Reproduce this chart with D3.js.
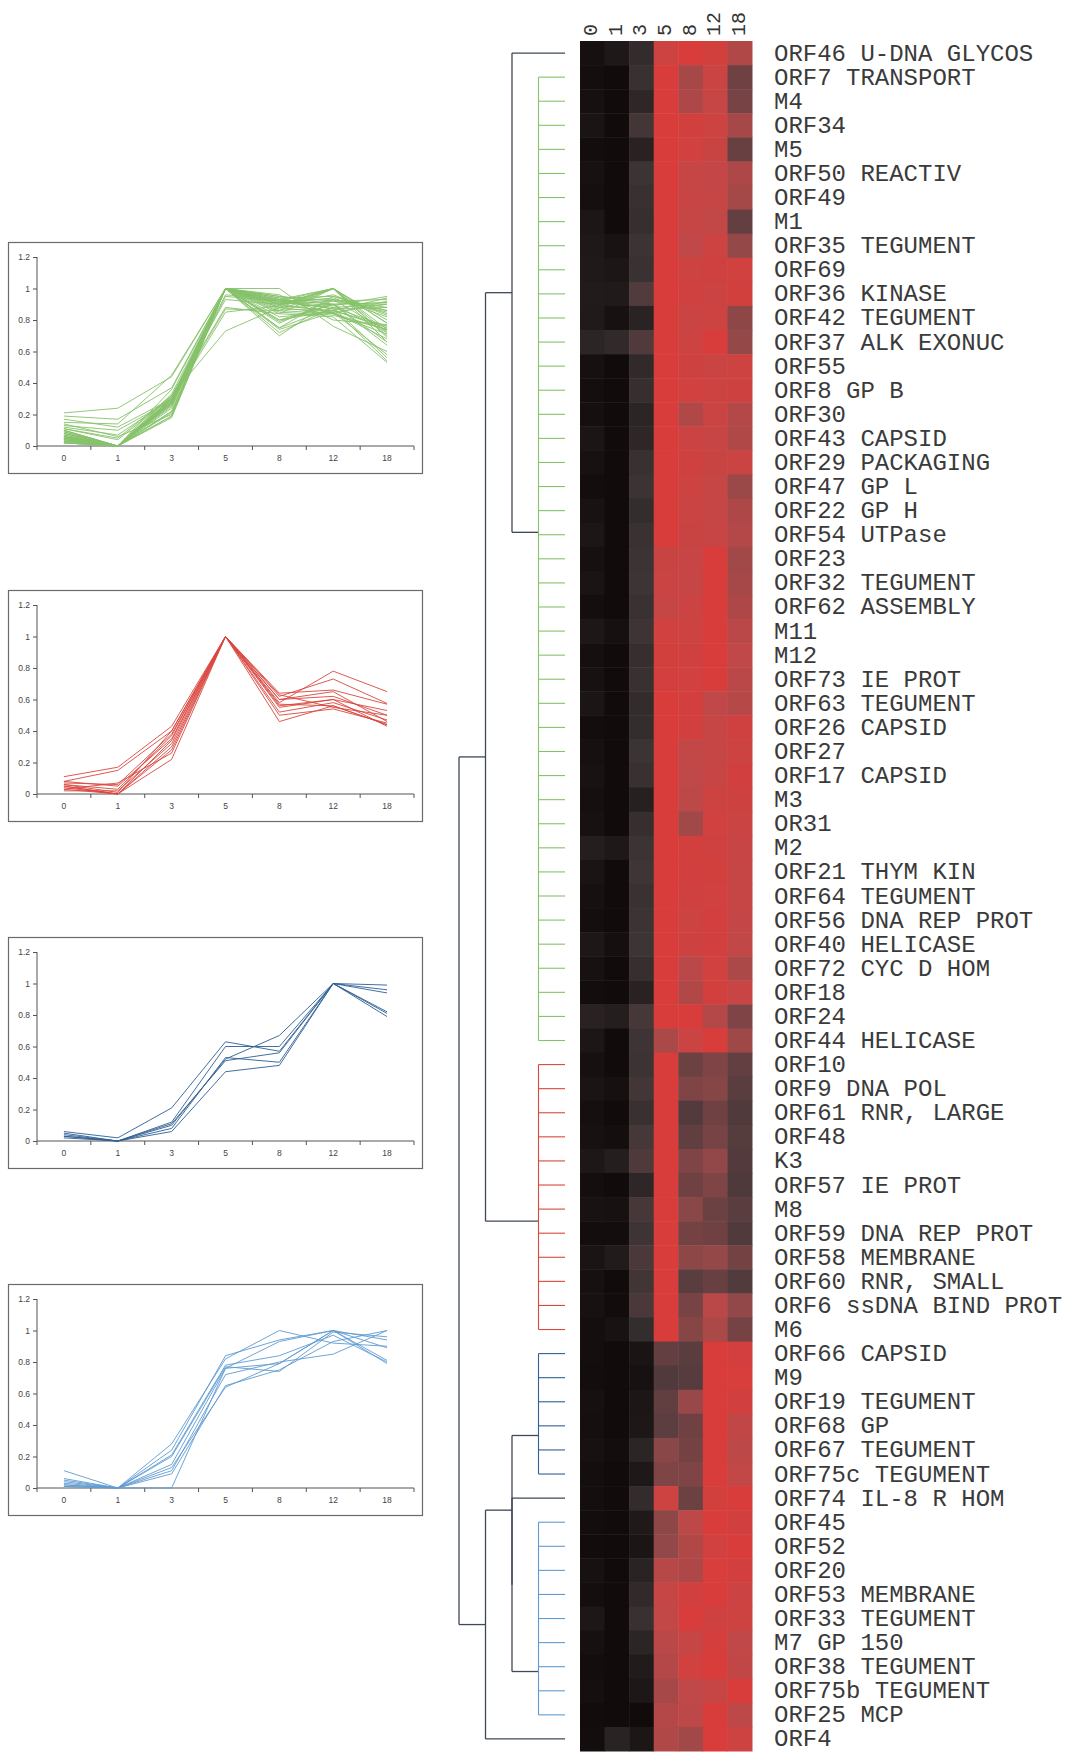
<!DOCTYPE html>
<html>
<head>
<meta charset="utf-8">
<script src="https://cdn.jsdelivr.net/npm/d3@7"></script>
<style>
  html, body { margin: 0; padding: 0; background: #fff; }
  svg { display: block; }
</style>
</head>
<body>
<svg id="fig" width="1071" height="1754"></svg>
<script>
// Time points (hours after induction)
const timepoints = ["0", "1", "3", "5", "8", "12", "18"];

// Gene labels, top to bottom in dendrogram order
const genes = [
  "ORF46 U-DNA GLYCOS", "ORF7 TRANSPORT", "M4", "ORF34", "M5", "ORF50 REACTIV",
  "ORF49", "M1", "ORF35 TEGUMENT", "ORF69", "ORF36 KINASE", "ORF42 TEGUMENT",
  "ORF37 ALK EXONUC", "ORF55", "ORF8 GP B", "ORF30", "ORF43 CAPSID",
  "ORF29 PACKAGING", "ORF47 GP L", "ORF22 GP H", "ORF54 UTPase", "ORF23",
  "ORF32 TEGUMENT", "ORF62 ASSEMBLY", "M11", "M12", "ORF73 IE PROT",
  "ORF63 TEGUMENT", "ORF26 CAPSID", "ORF27", "ORF17 CAPSID", "M3", "OR31", "M2",
  "ORF21 THYM KIN", "ORF64 TEGUMENT", "ORF56 DNA REP PROT", "ORF40 HELICASE",
  "ORF72 CYC D HOM", "ORF18", "ORF24", "ORF44 HELICASE", "ORF10", "ORF9 DNA POL",
  "ORF61 RNR, LARGE", "ORF48", "K3", "ORF57 IE PROT", "M8", "ORF59 DNA REP PROT",
  "ORF58 MEMBRANE", "ORF60 RNR, SMALL", "ORF6 ssDNA BIND PROT", "M6",
  "ORF66 CAPSID", "M9", "ORF19 TEGUMENT", "ORF68 GP", "ORF67 TEGUMENT",
  "ORF75c TEGUMENT", "ORF74 IL-8 R HOM", "ORF45", "ORF52", "ORF20",
  "ORF53 MEMBRANE", "ORF33 TEGUMENT", "M7 GP 150", "ORF38 TEGUMENT",
  "ORF75b TEGUMENT", "ORF25 MCP", "ORF4"
];

// Normalised expression (0 = minimum, 1 = maximum of each gene), one row per gene
const expression = [
  [0.05, 0.12, 0.25, 0.90, 1.00, 0.95, 0.75],
  [0.03, 0.00, 0.28, 1.00, 0.72, 0.88, 0.56],
  [0.05, 0.00, 0.22, 1.00, 0.74, 0.85, 0.58],
  [0.08, 0.00, 0.36, 1.00, 0.95, 0.90, 0.72],
  [0.02, 0.00, 0.19, 1.00, 0.93, 0.87, 0.54],
  [0.06, 0.00, 0.30, 1.00, 0.85, 0.83, 0.74],
  [0.04, 0.00, 0.28, 1.00, 0.86, 0.84, 0.71],
  [0.10, 0.00, 0.27, 1.00, 0.84, 0.82, 0.53],
  [0.12, 0.07, 0.30, 1.00, 0.80, 0.90, 0.66],
  [0.13, 0.10, 0.29, 1.00, 0.90, 0.92, 0.93],
  [0.15, 0.14, 0.45, 1.00, 0.92, 0.89, 0.95],
  [0.14, 0.06, 0.20, 1.00, 0.88, 0.90, 0.64],
  [0.21, 0.24, 0.44, 1.00, 0.90, 1.00, 0.66],
  [0.05, 0.00, 0.24, 1.00, 0.91, 0.88, 0.90],
  [0.03, 0.00, 0.27, 1.00, 0.93, 0.90, 0.91],
  [0.04, 0.00, 0.21, 1.00, 0.75, 0.88, 0.76],
  [0.09, 0.00, 0.22, 1.00, 0.89, 0.86, 0.75],
  [0.06, 0.00, 0.28, 1.00, 0.92, 0.87, 0.88],
  [0.02, 0.00, 0.30, 1.00, 0.90, 0.85, 0.68],
  [0.07, 0.00, 0.26, 1.00, 0.88, 0.84, 0.74],
  [0.10, 0.00, 0.29, 1.00, 0.87, 0.86, 0.76],
  [0.05, 0.00, 0.30, 0.87, 0.86, 1.00, 0.70],
  [0.08, 0.00, 0.31, 0.88, 0.84, 1.00, 0.72],
  [0.03, 0.00, 0.29, 0.85, 0.89, 1.00, 0.74],
  [0.11, 0.05, 0.32, 0.93, 0.90, 1.00, 0.78],
  [0.04, 0.00, 0.27, 0.95, 0.92, 1.00, 0.80],
  [0.06, 0.00, 0.28, 0.96, 0.93, 1.00, 0.78],
  [0.09, 0.00, 0.25, 1.00, 0.96, 0.80, 0.77],
  [0.02, 0.00, 0.26, 1.00, 0.94, 0.84, 0.92],
  [0.05, 0.00, 0.30, 1.00, 0.82, 0.85, 0.90],
  [0.07, 0.00, 0.28, 1.00, 0.80, 0.86, 0.94],
  [0.04, 0.00, 0.18, 1.00, 0.79, 0.90, 0.91],
  [0.06, 0.00, 0.27, 1.00, 0.70, 0.93, 0.88],
  [0.17, 0.12, 0.30, 1.00, 0.95, 0.92, 0.86],
  [0.08, 0.00, 0.33, 1.00, 0.94, 0.95, 0.84],
  [0.05, 0.00, 0.29, 1.00, 0.92, 0.93, 0.85],
  [0.03, 0.00, 0.30, 1.00, 0.90, 0.96, 0.83],
  [0.11, 0.04, 0.31, 1.00, 0.91, 0.94, 0.82],
  [0.06, 0.00, 0.27, 1.00, 0.78, 0.93, 0.73],
  [0.02, 0.00, 0.19, 1.00, 0.75, 0.95, 0.86],
  [0.19, 0.17, 0.37, 1.00, 1.00, 0.76, 0.60],
  [0.10, 0.00, 0.32, 0.73, 0.88, 1.00, 0.69],
  [0.05, 0.00, 0.30, 1.00, 0.55, 0.60, 0.53],
  [0.08, 0.05, 0.35, 1.00, 0.60, 0.62, 0.50],
  [0.04, 0.00, 0.28, 1.00, 0.46, 0.56, 0.44],
  [0.06, 0.03, 0.37, 1.00, 0.52, 0.58, 0.47],
  [0.11, 0.17, 0.43, 1.00, 0.60, 0.65, 0.46],
  [0.03, 0.00, 0.22, 1.00, 0.56, 0.60, 0.43],
  [0.07, 0.06, 0.38, 1.00, 0.63, 0.55, 0.50],
  [0.02, 0.02, 0.32, 1.00, 0.57, 0.56, 0.44],
  [0.08, 0.15, 0.40, 1.00, 0.64, 0.66, 0.57],
  [0.05, 0.00, 0.34, 1.00, 0.50, 0.54, 0.45],
  [0.06, 0.01, 0.40, 1.00, 0.58, 0.78, 0.65],
  [0.03, 0.07, 0.26, 1.00, 0.62, 0.73, 0.575],
  [0.03, 0.00, 0.08, 0.53, 0.50, 1.00, 0.96],
  [0.02, 0.00, 0.06, 0.44, 0.48, 1.00, 0.99],
  [0.05, 0.00, 0.10, 0.52, 0.67, 1.00, 0.94],
  [0.04, 0.00, 0.11, 0.51, 0.56, 1.00, 0.81],
  [0.06, 0.02, 0.21, 0.63, 0.57, 1.00, 0.79],
  [0.03, 0.00, 0.12, 0.60, 0.60, 1.00, 0.82],
  [0.03, 0.00, 0.25, 0.90, 0.55, 0.95, 1.00],
  [0.02, 0.00, 0.13, 0.64, 0.79, 1.00, 0.94],
  [0.01, 0.00, 0.09, 0.65, 0.75, 0.93, 1.00],
  [0.06, 0.00, 0.20, 0.77, 0.74, 0.99, 0.96],
  [0.03, 0.00, 0.24, 0.84, 0.94, 1.00, 0.89],
  [0.11, 0.00, 0.28, 0.82, 1.00, 0.92, 0.90],
  [0.05, 0.00, 0.21, 0.78, 0.84, 0.97, 0.80],
  [0.02, 0.00, 0.15, 0.76, 0.93, 1.00, 0.81],
  [0.04, 0.00, 0.11, 0.72, 0.80, 0.85, 1.00],
  [0.01, 0.00, 0.00, 0.76, 0.79, 1.00, 0.79],
  [0.02, 0.20, 0.10, 0.75, 0.70, 1.00, 0.90]
];

// Expression clusters: first/last gene row and the row where the cluster joins the tree
const clusterNames  = ["green", "red", "darkblue", "lightblue"];
const clusterColors = ["#86c26a", "#d9473f", "#2f5f93", "#5f9bd2"];
const clusterFirst  = [1, 42, 54, 61];
const clusterLast   = [41, 53, 59, 69];
const clusterJoin   = [19.9, 48.5, 57.4, 67.2];

// Upper tree: internal nodes carry a merge level, leaves a gene row, clusters an index
const tree = { level: 4, children: [
  { level: 3, children: [
    { level: 2, children: [ { gene: 0 }, { cluster: 0 } ] },
    { cluster: 1 }
  ] },
  { level: 3, children: [
    { level: 2, children: [
      { cluster: 2 },
      { level: 2, children: [ { gene: 60 }, { cluster: 3 } ] }
    ] },
    { gene: 70 }
  ] }
] };

// Axis ticks of the profile panels
const profileTicks = [0, 0.2, 0.4, 0.6, 0.8, 1, 1.2];

const svg = d3.select("#fig");
const monoFont = "'Courier New', 'Liberation Mono', monospace";

// ---------- heat map ----------
const heat = { x: 580, y: 41, w: 172, h: 1710 };
const xCol = d3.scaleBand().domain(timepoints).range([heat.x, heat.x + heat.w]);
const yRow = d3.scaleBand().domain(d3.range(genes.length)).range([heat.y, heat.y + heat.h]);
const rowCenter = r => heat.y + (r + 0.5) * yRow.step();

const heatColor = d3.scaleLinear()
  .domain([0, 0.15, 0.3, 0.5, 0.65, 0.8, 1])
  .range(["#110b0b", "#221b1b", "#3b3334", "#593d3f", "#924848", "#c04848", "#d83d3b"])
  .interpolate(d3.interpolateRgb)
  .clamp(true);

const cells = [];
expression.forEach((row, r) => row.forEach((v, c) => cells.push({ r, c, v })));

svg.append("g").selectAll("rect").data(cells).join("rect")
  .attr("x", d => xCol(timepoints[d.c]))
  .attr("y", d => yRow(d.r))
  .attr("width", xCol.bandwidth() + 0.5)
  .attr("height", yRow.bandwidth() + 0.5)
  .attr("fill", d => heatColor(d.v));

// column headers
svg.append("g").selectAll("text").data(timepoints).join("text")
  .attr("transform", d => `translate(${xCol(d) + xCol.bandwidth() / 2 + 5},36) rotate(-90)`)
  .attr("font-family", monoFont)
  .attr("font-size", 20)
  .attr("fill", "#333")
  .text(d => d);

// gene labels
svg.append("g").selectAll("text").data(genes).join("text")
  .attr("x", 774)
  .attr("y", (d, i) => rowCenter(i) + 7.5)
  .attr("font-family", monoFont)
  .attr("font-size", 24)
  .attr("fill", "#3a3a3a")
  .attr("xml:space", "preserve")
  .text(d => d);

// ---------- dendrogram ----------
const xLevel = d3.scaleLinear().domain([0, 4]).range([565, 459]);
const treeColor = "#3e4858";
const dg = svg.append("g").attr("fill", "none").attr("stroke-width", 1.3);

function nodeLevel(n) {
  if (n.gene !== undefined) return 0;
  if (n.cluster !== undefined) return 1;
  return n.level;
}
function nodeY(n) {
  if (n.gene !== undefined) return rowCenter(n.gene);
  if (n.cluster !== undefined) return rowCenter(clusterJoin[n.cluster]);
  return d3.mean(n.children, nodeY);
}
function drawNode(n) {
  if (!n.children) return;
  const x = xLevel(n.level);
  const ys = n.children.map(nodeY);
  dg.append("line").attr("x1", x).attr("x2", x)
    .attr("y1", d3.min(ys)).attr("y2", d3.max(ys)).attr("stroke", treeColor);
  n.children.forEach((c, i) => {
    dg.append("line").attr("x1", x).attr("x2", xLevel(nodeLevel(c)))
      .attr("y1", ys[i]).attr("y2", ys[i]).attr("stroke", treeColor);
    drawNode(c);
  });
}
drawNode(tree);

// cluster combs
clusterNames.forEach((name, k) => {
  const col = clusterColors[k];
  const g = dg.append("g").attr("stroke", col).attr("stroke-width", 1.1);
  g.append("line").attr("x1", xLevel(1)).attr("x2", xLevel(1))
    .attr("y1", rowCenter(clusterFirst[k])).attr("y2", rowCenter(clusterLast[k]));
  g.selectAll("line.tick").data(d3.range(clusterFirst[k], clusterLast[k] + 1)).join("line")
    .attr("class", "tick")
    .attr("x1", xLevel(1)).attr("x2", xLevel(0))
    .attr("y1", d => rowCenter(d)).attr("y2", d => rowCenter(d));
});

// ---------- expression profile panels ----------
const panelTops = [242, 590, 937, 1284];
const panel = { x: 8, w: 414, h: 231, axisX: 37, plotRight: 414, top: 15, zero: 204 };

clusterNames.forEach((name, k) => {
  const top = panelTops[k];
  const g = svg.append("g");
  g.append("rect")
    .attr("x", panel.x + 0.5).attr("y", top + 0.5)
    .attr("width", panel.w).attr("height", panel.h)
    .attr("fill", "#fff").attr("stroke", "#6a6a6a").attr("stroke-width", 1.2);

  const x = d3.scaleBand().domain(timepoints).range([panel.axisX, panel.plotRight]);
  const y = d3.scaleLinear().domain([0, 1.2]).range([top + panel.zero, top + panel.top]);

  const yAxis = d3.axisLeft(y).tickValues(profileTicks).tickSize(4).tickPadding(3)
    .tickFormat(d => d3.format("~g")(d));
  const ya = g.append("g").attr("transform", `translate(${panel.axisX},0)`).call(yAxis);

  const xAxis = d3.axisBottom(x).tickSize(0).tickPadding(9);
  const xa = g.append("g").attr("transform", `translate(0,${top + panel.zero})`).call(xAxis);

  // category separators on the time axis
  const bounds = timepoints.map(t => x(t)).concat([panel.plotRight]);
  xa.selectAll("line.sep").data(bounds).join("line").attr("class", "sep")
    .attr("x1", d => d).attr("x2", d => d).attr("y1", 0).attr("y2", 4)
    .attr("stroke", "#555");

  [ya, xa].forEach(a => {
    a.select(".domain").attr("stroke", "#555").attr("stroke-width", 1);
    a.selectAll(".tick line").attr("stroke", "#555");
    a.selectAll("text").attr("font-family", "Arial, 'Liberation Sans', sans-serif")
      .attr("font-size", 8.5).attr("fill", "#444");
  });
  ya.select(".domain").attr("d", `M0,${y(1.2)}V${y(0)}`);
  xa.select(".domain").attr("d", `M${panel.axisX},0H${panel.plotRight}`);

  const rows = d3.range(clusterFirst[k], clusterLast[k] + 1);
  const line = d3.line().x((v, i) => x(timepoints[i]) + x.bandwidth() / 2).y(v => y(v));
  g.append("g").selectAll("path").data(rows).join("path")
    .attr("d", r => line(expression[r]))
    .attr("fill", "none")
    .attr("stroke", clusterColors[k])
    .attr("stroke-width", 1)
    .attr("stroke-opacity", 0.9);
});
</script>
</body>
</html>
